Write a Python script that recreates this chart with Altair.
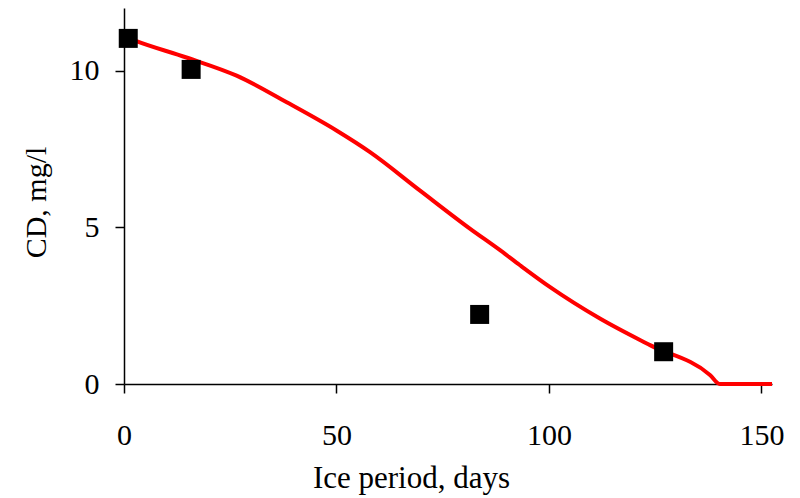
import altair as alt
import pandas as pd

# Model curve (red line)
curve_days = [0, 2.6, 14.7, 26.5, 38.3, 50.0, 57.9, 69.6, 81.4, 88.5, 93.2, 100.2, 112.0, 123.8, 137.9, 140.2, 152.5]
curve_cd = [11.1, 10.96, 10.42, 9.84, 8.99, 8.09, 7.40, 6.18, 4.96, 4.27, 3.79, 3.10, 2.09, 1.24, 0.29, 0.0, 0.0]

# Observations (black squares)
obs_days = [1, 15.8, 83.7, 127.0]
obs_cd = [11.03, 10.04, 2.22, 1.03]

x_ticks = [0, 50, 100, 150]
y_ticks = [0, 5, 10]

curve_df = pd.DataFrame({"day": curve_days, "cd": curve_cd})
obs_df = pd.DataFrame({"day": obs_days, "cd": obs_cd})

FONT = "Liberation Serif"

x_scale = alt.Scale(domain=[0, 152.5], nice=False, zero=False)
y_scale = alt.Scale(domain=[0, 12], nice=False)

x_axis = alt.Axis(
    title="Ice period, days", values=x_ticks, grid=False,
    domainColor="black", domainWidth=1.5, tickColor="black", tickWidth=1.5, tickSize=9,
    labelFont=FONT, labelFontSize=30, labelColor="black", labelBaseline="alphabetic",
    labelPadding=51, labelFlush=False,
    titleFont=FONT, titleFontSize=31, titleFontWeight="normal", titleColor="black",
    titleX=287, titleY=103, titleBaseline="alphabetic", titleAnchor="middle", titleAlign="center",
)
y_axis = alt.Axis(
    title="CD, mg/l", values=y_ticks, grid=False,
    domainColor="black", domainWidth=1.5, tickColor="black", tickWidth=1.5, tickSize=9,
    labelFont=FONT, labelFontSize=30, labelColor="black", labelPadding=16,
    titleFont=FONT, titleFontSize=30, titleFontWeight="normal", titleColor="black",
    titleX=-79, titleY=194, titleBaseline="alphabetic", titleAlign="center", titleAngle=-90,
)

line = alt.Chart(curve_df).mark_line(
    color="#FF0000", strokeWidth=4, clip=False, interpolate="monotone"
).encode(
    x=alt.X("day:Q", scale=x_scale, axis=x_axis),
    y=alt.Y("cd:Q", scale=y_scale, axis=y_axis),
)

points = alt.Chart(obs_df).mark_point(
    shape="square", filled=True, color="black", size=361, opacity=1, clip=False
).encode(
    x=alt.X("day:Q", scale=x_scale),
    y=alt.Y("cd:Q", scale=y_scale),
)

chart = (line + points).properties(
    width=648, height=376,
    autosize=alt.AutoSizeParams(type="none"),
    padding={"left": 116, "top": 0, "right": 20, "bottom": 114},
).configure(background="white").configure_view(stroke=None, strokeWidth=0)

chart.save("out.html", embed_options={"renderer": "svg", "actions": False})
